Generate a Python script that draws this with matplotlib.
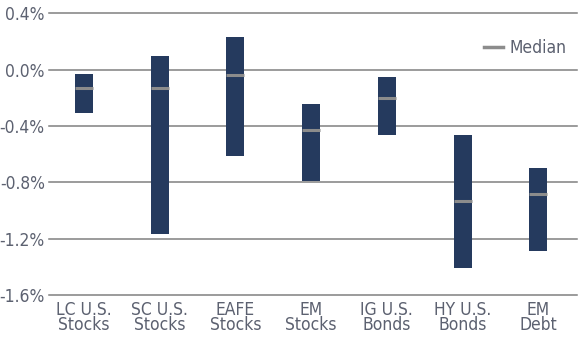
import matplotlib
matplotlib.use('Agg')
import matplotlib.pyplot as plt
from matplotlib.lines import Line2D

categories = ['LC U.S.\nStocks', 'SC U.S.\nStocks', 'EAFE\nStocks', 'EM\nStocks',
              'IG U.S.\nBonds', 'HY U.S.\nBonds', 'EM\nDebt']
highs = [-0.03, 0.10, 0.23, -0.24, -0.05, -0.46, -0.70]
lows = [-0.31, -1.17, -0.61, -0.79, -0.46, -1.41, -1.29]
medians = [-0.13, -0.13, -0.04, -0.43, -0.20, -0.93, -0.88]
yticks = [0.4, 0.0, -0.4, -0.8, -1.2, -1.6]

plt.rcParams['font.family'] = ['DejaVu Sans']
plt.rcParams['font.stretch'] = 'condensed'

bar_col = '#253a5e'
med_col = '#8c8c8c'
txt_col = '#5c6170'
grid_col = '#808080'

fig = plt.figure(figsize=(5.8, 3.44), dpi=100)
ax = fig.add_axes([49 / 580, 1 - 295 / 344, 528 / 580, (295 - 13.5) / 344])

x = list(range(len(categories)))
heights = [h - l for h, l in zip(highs, lows)]
ax.bar(x, heights, bottom=lows, width=0.24, color=bar_col, zorder=3)
for xi, m in zip(x, medians):
    ax.plot([xi - 0.12, xi + 0.12], [m, m], color=med_col, lw=2.2, zorder=4,
            solid_capstyle='butt')

ax.set_ylim(-1.6, 0.4)
ax.set_xlim(-0.46, 6.51)
ax.set_yticks(yticks)
ax.set_yticklabels(['%.1f%%' % v for v in yticks])
ax.set_xticks(x)
ax.set_xticklabels(categories, linespacing=0.85)
ax.yaxis.grid(True, color=grid_col, lw=1.1, zorder=0)
for gl in ax.get_ygridlines():
    gl.set_clip_on(False)
for s in ax.spines.values():
    s.set_visible(False)
ax.tick_params(axis='both', length=0, labelsize=12.5, colors=txt_col)
ax.tick_params(axis='y', pad=3)
ax.tick_params(axis='x', pad=4)

handle = Line2D([], [], color=med_col, lw=2.5)
leg = ax.legend([handle], ['Median'], loc='upper right', frameon=False,
                fontsize=12.5, handlelength=1.1, handletextpad=0.4,
                bbox_to_anchor=(1.01, 0.965), labelcolor=txt_col)

fig.savefig('out.png', dpi=100)
